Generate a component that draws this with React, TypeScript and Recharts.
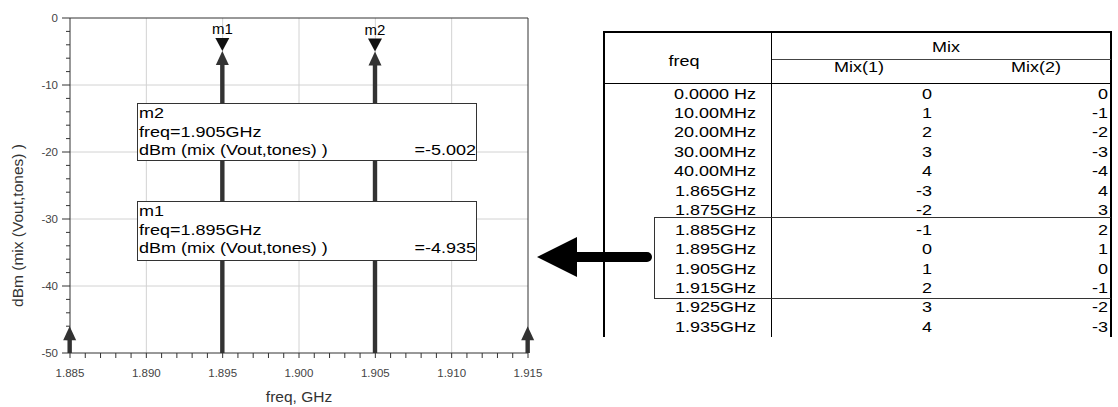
import { Bar, CartesianGrid, ComposedChart, ReferenceLine, XAxis, YAxis } from "recharts"

// spectrum lines (freq in GHz, level in dBm)
const freqs = [1.885, 1.895, 1.905, 1.915]
const levels = [-46, -4.935, -5.002, -46]
const markerNames = ["", "m1", "m2", ""]

const yMin = -50
const yMax = 0

const xTicks = [
  1.885, 1.886, 1.887, 1.888, 1.889, 1.89, 1.891, 1.892, 1.893, 1.894, 1.895,
  1.896, 1.897, 1.898, 1.899, 1.9, 1.901, 1.902, 1.903, 1.904, 1.905, 1.906,
  1.907, 1.908, 1.909, 1.91, 1.911, 1.912, 1.913, 1.914, 1.915,
]
const yTicks = [
  0, -2, -4, -6, -8, -10, -12, -14, -16, -18, -20, -22, -24, -26, -28, -30,
  -32, -34, -36, -38, -40, -42, -44, -46, -48, -50,
]
const xGrid = [1.89, 1.895, 1.9, 1.905, 1.91]
const yGrid = [-10, -20, -30, -40]

// marker readouts
const boxNames = ["m2", "m1"]
const boxFreqs = ["freq=1.905GHz", "freq=1.895GHz"]
const boxValues = ["=-5.002", "=-4.935"]
const exprLabel = "dBm (mix (Vout,tones) )"

// mix table
const tableFreqs = [
  "0.0000 Hz", "10.00MHz", "20.00MHz", "30.00MHz", "40.00MHz", "1.865GHz",
  "1.875GHz", "1.885GHz", "1.895GHz", "1.905GHz", "1.915GHz", "1.925GHz", "1.935GHz",
]
const mix1 = [0, 1, 2, 3, 4, -3, -2, -1, 0, 1, 2, 3, 4]
const mix2 = [0, -1, -2, -3, -4, 4, 3, 2, 1, 0, -1, -2, -3]

const chartData = freqs.map((f, i) => ({
  freq: f,
  level: levels[i],
  span: [yMin, levels[i]],
  marker: markerNames[i],
}))

const FONT = "'Liberation Sans', Arial, sans-serif"
const INK = "#333"

const SpectralLine = (props: any) => {
  const { x, y, width, height, payload } = props
  const cx = x + width / 2
  const top = Math.min(y, y + height)
  const bottom = Math.max(y, y + height)
  return (
    <g>
      <rect x={cx - 2.2} y={top + 12} width={4.4} height={Math.max(0, bottom - top - 12)} fill={INK} />
      <polygon points={`${cx},${top} ${cx - 6.5},${top + 14} ${cx + 6.5},${top + 14}`} fill={INK} />
      {payload.marker && (
        <g>
          <polygon points={`${cx - 7},${top - 13} ${cx + 7},${top - 13} ${cx},${top}`} fill="#111" />
          <text x={cx} y={top - 17} textAnchor="middle" fontSize={15} fontFamily={FONT} fill="#000">
            {payload.marker}
          </text>
        </g>
      )}
    </g>
  )
}

const YTick = (props: any) => {
  const { x, y, payload } = props
  const v = payload.value
  const major = v % 10 === 0
  return (
    <g>
      <line x1={x - (major ? 8 : 4)} x2={x} y1={y} y2={y} stroke={INK} />
      {major && (
        <text x={x - 12} y={y + 4} textAnchor="end" fontSize={11.5} fontFamily={FONT} fill="#444">
          {v}
        </text>
      )}
    </g>
  )
}

const XTick = (props: any) => {
  const { x, y, payload } = props
  const v = payload.value
  const major = Math.round(v * 1000) % 5 === 0
  return (
    <g>
      <line x1={x} x2={x} y1={y} y2={y + 5} stroke={INK} />
      {major && (
        <text x={x} y={y + 24} textAnchor="middle" fontSize={11.5} fontFamily={FONT} fill="#444">
          {v.toFixed(3)}
        </text>
      )}
    </g>
  )
}

const stretched = (x: number, y: number, s: string, anchor: string, size = 15) => (
  <text
    transform={`translate(${x},${y}) scale(1.2,1)`}
    textAnchor={anchor}
    fontSize={size}
    fontFamily={FONT}
    fill="#000"
  >
    {s}
  </text>
)

const boxTops = [103, 201]
const boxHeights = [57, 59]

const Overlay = () => {
  const rowY = (i: number) => 98.5 + i * 19.45
  return (
    <svg width={1118} height={407} style={{ position: "absolute", left: 0, top: 0, pointerEvents: "none" }}>
      {boxNames.map((name, i) => {
        const t = boxTops[i]
        return (
          <g key={name}>
            <rect x={137.5} y={t + 0.5} width={339} height={boxHeights[i]} fill="#fff" stroke={INK} />
            {stretched(139, t + 15, name, "start")}
            {stretched(139, t + 33.5, boxFreqs[i], "start")}
            {stretched(139, t + 52, exprLabel, "start")}
            {stretched(476, t + 52, boxValues[i], "end")}
          </g>
        )
      })}

      {/* pointer arrow */}
      <line x1={576} y1={257} x2={647} y2={257} stroke="#000" strokeWidth={10} strokeLinecap="round" />
      <polygon points="537,257 577,237 577,277" fill="#000" />

      {/* table */}
      <g stroke="#000" fill="none">
        <line x1={604} y1={32} x2={1112} y2={32} strokeWidth={2} />
        <line x1={604} y1={31} x2={604} y2={337} strokeWidth={2} />
        <line x1={1111} y1={31} x2={1111} y2={337} strokeWidth={2} />
        <line x1={771.5} y1={32} x2={771.5} y2={337} />
        <line x1={772} y1={59.5} x2={1111} y2={59.5} stroke="#444" />
        <line x1={604} y1={83.5} x2={1111} y2={83.5} />
        <line x1={654} y1={217.5} x2={1111} y2={217.5} stroke={INK} />
        <line x1={654} y1={298.5} x2={1111} y2={298.5} stroke={INK} />
        <line x1={654.5} y1={217} x2={654.5} y2={299} stroke={INK} />
      </g>
      {stretched(684, 66, "freq", "middle")}
      {stretched(946, 52, "Mix", "middle")}
      {stretched(859, 72, "Mix(1)", "middle")}
      {stretched(1036, 72, "Mix(2)", "middle")}
      {tableFreqs.map((f, i) => (
        <g key={f}>
          {stretched(756, rowY(i), f, "end")}
          {stretched(932, rowY(i), String(mix1[i]), "end")}
          {stretched(1108, rowY(i), String(mix2[i]), "end")}
        </g>
      ))}
    </svg>
  )
}

export default function App() {
  return (
    <div style={{ position: "absolute", left: 0, top: 0, width: 1118, height: 407, background: "#fff" }}>
      <ComposedChart
        width={1118}
        height={407}
        data={chartData}
        margin={{ top: 18, right: 590, bottom: 0, left: 0 }}
      >
        <CartesianGrid
          stroke="#d2d2d2"
          horizontalValues={yGrid}
          verticalValues={xGrid}
        />
        <XAxis
          dataKey="freq"
          type="number"
          domain={[1.885, 1.915]}
          ticks={xTicks}
          interval={0}
          height={54}
          tickSize={0}
          tickMargin={0}
          tickLine={false}
          axisLine={{ stroke: INK }}
          tick={<XTick />}
          label={(p: any) => (
            <text
              x={p.viewBox.x + p.viewBox.width / 2}
              y={p.viewBox.y + 49}
              textAnchor="middle"
              fontSize={15.5}
              fontFamily={FONT}
              fill={INK}
            >
              freq, GHz
            </text>
          )}
        />
        <YAxis
          type="number"
          domain={[yMin, yMax]}
          ticks={yTicks}
          interval={0}
          width={70}
          tickSize={0}
          tickMargin={0}
          tickLine={false}
          axisLine={{ stroke: INK }}
          tick={<YTick />}
          label={(p: any) => (
            <text
              transform={`translate(${p.viewBox.x + 23},${p.viewBox.y + p.viewBox.height / 2 + 40}) rotate(-90)`}
              textAnchor="middle"
              fontSize={15.5}
              fontFamily={FONT}
              fill={INK}
            >
              {exprLabel}
            </text>
          )}
        />
        <ReferenceLine y={yMax} stroke={INK} />
        <ReferenceLine x={1.915} stroke={INK} />
        <Bar dataKey="span" barSize={4} isAnimationActive={false} shape={(p: any) => <SpectralLine {...p} />} />
      </ComposedChart>
      <Overlay />
    </div>
  )
}
